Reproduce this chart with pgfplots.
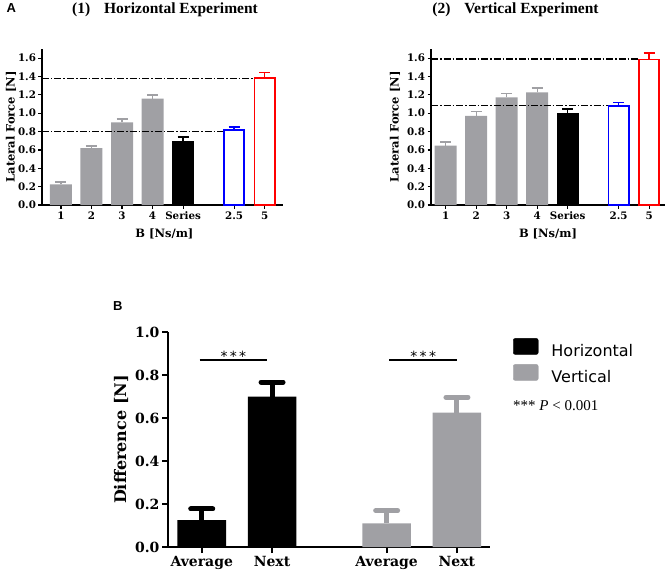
\documentclass[border=0pt]{standalone}
\usepackage{fontspec}
\setmainfont{Liberation Serif}
\newfontfamily\dvserif{DejaVu Serif}
\newfontfamily\dvsans{DejaVu Sans}
\newfontfamily\lsans{Liberation Sans}
\usepackage{pgfplots}
\pgfplotsset{compat=1.18}

\definecolor{bargray}{RGB}{160,160,164}

\pgfplotsset{
  yfmt/.style={yticklabel style={/pgf/number format/fixed, /pgf/number format/fixed zerofill,
    /pgf/number format/precision=1, /pgf/number format/assume math mode=true, xshift=1pt}},
  panelA/.style={
    scale only axis, height=156pt, ymin=0, ymax=1.7,
    axis lines=left, axis line style={-, line width=1.4pt},
    tick style={line width=1.2pt, black}, tick align=outside, major tick length=3.5pt,
    ytick={0,0.2,0.4,0.6,0.8,1.0,1.2,1.4,1.6},
    xtick={0,1,2,3,4,5.67,6.67}, xticklabels={1,2,3,4,Series,2.5,5},
    yfmt,
    ticklabel style={font=\dvserif\bfseries\fontsize{10.3}{12}\selectfont},
    label style={font=\dvserif\bfseries\fontsize{11.5}{13}\selectfont},
    xlabel={B [Ns/m]}, ylabel={Lateral Force [N]},
    clip=false,
  },
  % filled bar with upward error bar, colour as argument
  fbar/.style={ybar, bar width=0.72, bar shift=0pt, fill=#1, draw=none, forget plot,
    error bars/.cd, y dir=plus, y explicit,
    error bar style={line width=1.3pt, #1},
    error mark options={rotate=90, mark size=5.5pt, line width=1.8pt, #1}},
  % open bar (white inside, coloured outline)
  obar/.style={ybar, bar width=0.66, bar shift=0pt, fill=white, draw=#1, line width=1.8pt, forget plot,
    error bars/.cd, y dir=plus, y explicit,
    error bar style={line width=1.3pt, #1},
    error mark options={rotate=90, mark size=5.5pt, line width=1.8pt, #1}},
  refline/.style={black, line width=1.2pt, dash pattern=on 7pt off 2pt on 1.5pt off 2pt, forget plot},
  % panel B bars
  bbar/.style={ybar, bar width=0.69, bar shift=0pt, fill=#1, draw=none, forget plot,
    error bars/.cd, y dir=plus, y explicit,
    error bar style={line width=5pt, #1},
    error mark options={rotate=90, mark size=11pt, line width=5pt, line cap=round, #1}},
}

\begin{document}
\begin{tikzpicture}
\path[use as bounding box] (0,0) rectangle (670pt,-575pt);

% ---- panel labels and titles
\node[anchor=base west, inner sep=0pt, font=\lsans\bfseries\fontsize{13}{15}\selectfont] at (6.5pt,-12.7pt) {A};
\node[anchor=base west, inner sep=0pt, font=\lsans\bfseries\fontsize{13}{15}\selectfont] at (113pt,-310pt) {B};
\node[anchor=base, inner sep=0pt, font=\bfseries\fontsize{15.5}{18}\selectfont] at (165pt,-13.3pt) {(1)\hspace{0.9em}Horizontal Experiment};
\node[anchor=base, inner sep=0pt, font=\bfseries\fontsize{15.5}{18}\selectfont] at (515.5pt,-13.3pt) {(2)\hspace{0.9em}Vertical Experiment};

% ---- (1) horizontal experiment
\begin{axis}[panelA, at={(42pt,-205pt)}, anchor=south west, width=241pt,
  xmin=-0.62, xmax=7.27,
  ylabel style={at={(axis description cs:-0.129,0.5)}, anchor=center},
  xlabel style={at={(axis description cs:0.508,-0.185)}, anchor=center}]
\addplot[fbar=bargray] coordinates {(0,0.226) +- (0,0.021) (1,0.620) +- (0,0.023) (2,0.900) +- (0,0.037) (3,1.160) +- (0,0.040)};
\addplot[fbar=black] coordinates {(4,0.700) +- (0,0.042)};
\addplot[obar=blue] coordinates {(5.67,0.815) +- (0,0.032)};
\addplot[obar=red] coordinates {(6.67,1.385) +- (0,0.058)};
\addplot[refline] coordinates {(-0.62,0.80) (5.31,0.80)};
\addplot[refline] coordinates {(-0.62,1.38) (6.31,1.38)};
\end{axis}

% ---- (2) vertical experiment
\begin{axis}[panelA, at={(431pt,-205pt)}, anchor=south west, width=234pt,
  xmin=-0.48, xmax=7.19,
  ylabel style={at={(axis description cs:-0.154,0.5)}, anchor=center},
  xlabel style={at={(axis description cs:0.5,-0.185)}, anchor=center}]
\addplot[fbar=bargray] coordinates {(0,0.647) +- (0,0.043) (1,0.972) +- (0,0.048) (2,1.173) +- (0,0.043) (3,1.227) +- (0,0.052)};
\addplot[fbar=black] coordinates {(4,1.000) +- (0,0.045)};
\addplot[obar=blue] coordinates {(5.67,1.080) +- (0,0.038)};
\addplot[obar=red] coordinates {(6.67,1.586) +- (0,0.074)};
\addplot[refline] coordinates {(-0.48,1.08) (5.31,1.08)};
\addplot[refline] coordinates {(-0.48,1.59) (6.31,1.59)};
\end{axis}

% ---- B: differences
\begin{axis}[scale only axis, at={(168pt,-547pt)}, anchor=south west,
  width=322pt, height=215pt, xmin=-0.48, xmax=4.1, ymin=0, ymax=1.0,
  axis lines=left, axis line style={-, line width=2.2pt},
  tick style={line width=2pt, black}, tick align=outside, major tick length=6pt,
  xtick={0,1,2.63,3.63}, xticklabels={Average,Next,Average,Next},
  ytick={0,0.2,0.4,0.6,0.8,1.0},
  yfmt,
  ticklabel style={font=\dvserif\bfseries\fontsize{14}{16}\selectfont},
  ylabel={Difference [N]},
  ylabel style={at={(axis description cs:-0.146,0.5)}, anchor=center, font=\dvserif\bfseries\fontsize{16}{18}\selectfont},
  clip=false,
  legend style={at={(1.071,0.972)}, anchor=north west, draw=none, fill=none, inner sep=0pt,
    row sep=4pt, font=\dvsans\fontsize{16}{19}\selectfont,
    nodes={inner sep=0pt, text height=12pt, text depth=4pt}},
  legend cell align=left]
\addlegendimage{legend image code/.code={\fill[black, rounded corners=2pt] (0pt,-2.2pt) rectangle (25pt,13.8pt);}}
\addlegendentry{\hspace{13pt}Horizontal}
\addlegendimage{legend image code/.code={\fill[bargray, rounded corners=2pt] (0pt,-2.2pt) rectangle (25pt,13.8pt);}}
\addlegendentry{\hspace{13pt}Vertical}
\addplot[bbar=black] coordinates {(0,0.125) +- (0,0.052) (1,0.699) +- (0,0.068)};
\addplot[bbar=bargray] coordinates {(2.63,0.110) +- (0,0.059) (3.63,0.625) +- (0,0.071)};
\addplot[black, line width=1.8pt, forget plot] coordinates {(-0.03,0.87) (0.93,0.87)};
\addplot[black, line width=1.8pt, forget plot] coordinates {(2.67,0.87) (3.63,0.87)};
\node[anchor=base, inner sep=0pt, font=\dvsans\fontsize{14}{16}\selectfont] at (axis cs:0.45,0.862) {*\,*\,*};
\node[anchor=base, inner sep=0pt, font=\dvsans\fontsize{14}{16}\selectfont] at (axis cs:3.15,0.862) {*\,*\,*};
\end{axis}

\node[anchor=base west, inner sep=0pt, font=\fontsize{15}{18}\selectfont] at (513pt,-410pt) {*** \textit{P} < 0.001};
\end{tikzpicture}
\end{document}
